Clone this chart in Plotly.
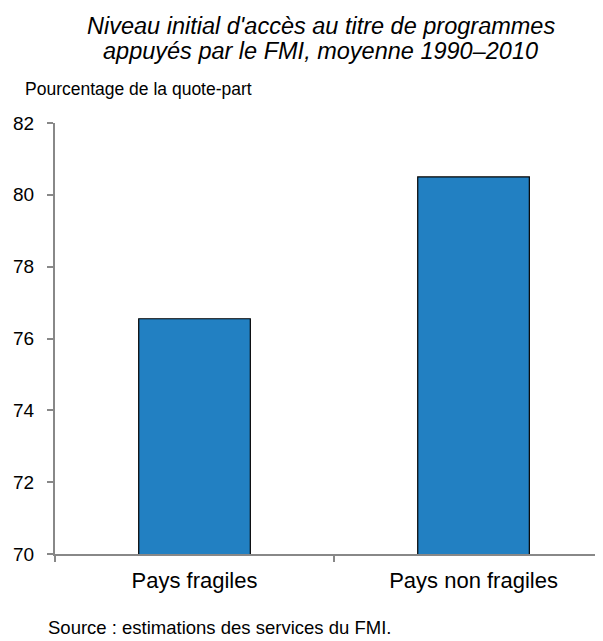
import plotly.graph_objs as go

categories = ['Pays fragiles', 'Pays non fragiles']
values = [76.55, 80.5]
y_ticks = [70, 72, 74, 76, 78, 80, 82]

title_lines = ["Niveau initial d'accès au titre de programmes",
               "appuyés par le FMI, moyenne 1990–2010"]
y_label = 'Pourcentage de la quote-part'
source = 'Source : estimations des services du FMI.'

FONT = 'Arial, Liberation Sans, sans-serif'

fig = go.Figure()

fig.add_trace(go.Bar(
    x=categories,
    y=values,
    width=0.4,
    marker=dict(color='#2280C2', line=dict(color='black', width=1.2)),
    showlegend=False,
))

fig.update_layout(
    width=595,  # la page ajoute une marge de 8 px
    height=633,
    margin=dict(l=47, r=0, t=115, b=87),
    plot_bgcolor='white',
    paper_bgcolor='white',
    font=dict(family=FONT, color='black', size=19),
    xaxis=dict(
        type='category',
        range=[-0.5, 1.464],
        showline=True, linecolor='#888888', linewidth=2,
        ticks='outside', tickson='boundaries', ticklen=6, tickcolor='#888888', tickwidth=2,
        ticklabelstandoff=6,
        showgrid=False, zeroline=False,
        tickfont=dict(size=22),
    ),
    yaxis=dict(
        range=[70, 82],
        tickvals=y_ticks,
        showline=True, linecolor='#888888', linewidth=2,
        ticks='outside', ticklen=6, tickcolor='#888888', tickwidth=2,
        ticklabelstandoff=9,
        showgrid=False, zeroline=False,
        tickfont=dict(size=19),
    ),
    annotations=[
        dict(text='<i>' + title_lines[0] + '</i>', xref='paper', yref='paper',
             x=0.4854, y=1.2262, xanchor='center', yanchor='middle', showarrow=False,
             font=dict(size=23.5)),
        dict(text='<i>' + title_lines[1] + '</i>', xref='paper', yref='paper',
             x=0.4854, y=1.1659, xanchor='center', yanchor='middle', showarrow=False,
             font=dict(size=23.5)),
        dict(text=y_label, xref='paper', yref='paper',
             x=-0.058, y=1.0789, xanchor='left', yanchor='middle', showarrow=False,
             font=dict(size=17.5)),
        dict(text=source, xref='paper', yref='paper',
             x=-0.016, y=-0.1996, xanchor='left', yanchor='bottom', showarrow=False,
             font=dict(size=18.5)),
    ],
)

fig.write_html("out.html")
